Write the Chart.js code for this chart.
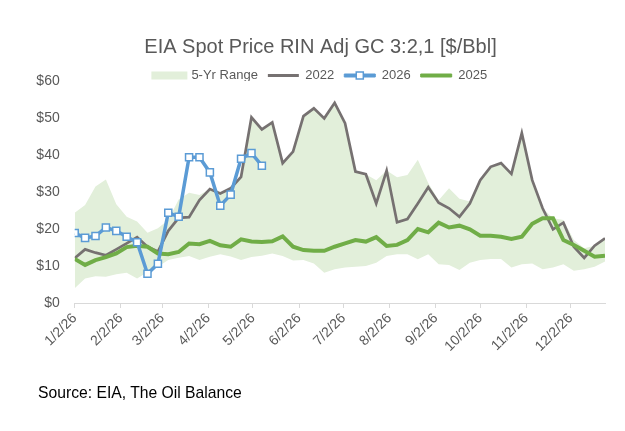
<!DOCTYPE html>
<html>
<head>
<meta charset="utf-8">
<script src="https://cdn.jsdelivr.net/npm/chart.js@4/dist/chart.umd.min.js"></script>
<style>
    html, body { margin: 0; padding: 0; background: #fff; }
    #wrap { position: relative; width: 625px; height: 431px; }
    #source {
        position: absolute; left: 38px; top: 384px;
        font: 15.7px "Liberation Sans", Arial, sans-serif; color: #000;
    }
</style>
</head>
<body>
<div id="wrap">
    <canvas id="chart" width="625" height="431"></canvas>
    <div id="source">Source: EIA, The Oil Balance</div>
</div>
<script>
// weekly points, first week = 1/2/26, x measured in days from that date
const monthLabels = ['1/2/26', '2/2/26', '3/2/26', '4/2/26', '5/2/26', '6/2/26',
    '7/2/26', '8/2/26', '9/2/26', '10/2/26', '11/2/26', '12/2/26'];
const monthDays = [0, 31, 59, 90, 120, 151, 181, 212, 243, 273, 304, 334];

const range5yHigh = [24.4, 26.5, 31.5, 33.4, 26.7, 23.3, 22.0, 19.0, 20.2, 22.4, 28.0, 29.8, 29.2,
    30.8, 29.6, 31.0, 34.1, 50.2, 46.9, 48.8, 37.8, 40.9, 50.5, 52.6, 49.9, 54.1, 48.6, 35.5, 34.8,
    33.2, 35.8, 34.0, 34.6, 38.7, 32.4, 27.8, 31.0, 28.2, 27.4, 33.2, 36.8, 37.8, 34.9, 45.9, 33.2,
    25.6, 22.9, 22.4, 17.0, 14.8, 15.5, 17.5];
const range5yLow = [4.0, 6.6, 7.2, 7.1, 7.8, 8.2, 6.6, 8.3, 9.8, 11.6, 12.2, 12.7, 11.6,
    12.5, 13.2, 12.6, 11.6, 12.4, 12.8, 13.4, 12.7, 11.5, 11.6, 10.7, 8.2, 9.1, 9.6, 9.8, 10.0,
    10.9, 12.7, 13.2, 13.2, 11.8, 13.2, 10.5, 10.3, 8.9, 10.9, 11.6, 11.9, 11.9, 9.6, 10.5, 10.7,
    9.1, 9.6, 10.5, 8.7, 9.1, 9.8, 11.2];
const y2022 = [12.1, 14.5, 13.6, 12.9, 14.5, 16.1, 17.8, 15.2, 13.9, 19.5, 23.0, 23.2, 27.8,
    30.8, 29.6, 31.0, 34.1, 50.2, 46.9, 48.8, 37.8, 40.9, 50.5, 52.6, 49.9, 54.1, 48.6, 35.5, 34.8,
    26.9, 35.8, 21.8, 22.7, 26.9, 31.3, 27.1, 25.6, 23.3, 26.9, 33.2, 36.8, 37.8, 34.9, 45.9, 33.2,
    25.6, 19.9, 21.7, 15.2, 12.2, 15.5, 17.5];
const y2026 = [18.9, 17.6, 18.1, 20.4, 19.5, 17.9, 16.4, 7.9, 10.6, 24.4, 23.3, 39.4, 39.4,
    35.3, 26.3, 29.3, 39.0, 40.5, 37.1];
const y2025 = [11.9, 10.3, 11.6, 12.4, 13.4, 15.1, 15.5, 15.2, 13.4, 13.2, 13.8, 16.1, 15.9,
    16.8, 15.6, 15.2, 17.2, 16.6, 16.5, 16.7, 18.0, 15.2, 14.3, 14.1, 14.1, 15.2, 16.1, 17.0, 16.6,
    17.8, 15.4, 15.7, 17.0, 20.0, 19.1, 21.7, 20.4, 20.9, 19.9, 18.2, 18.2, 17.9, 17.3, 17.9, 21.4,
    22.9, 22.9, 17.0, 15.7, 14.1, 12.5, 12.8];

const BAND = '#e2efda', GREY = '#767171', BLUE = '#5b9bd5', GREEN = '#70ad47', TEXT = '#595959';

const toPoints = arr => arr.map((v, i) => ({ x: i * 7, y: v }));

Chart.defaults.font.family = '"Liberation Sans", Arial, sans-serif';
Chart.defaults.color = TEXT;

// square marker on the 2026 legend line
const legendMarker = {
    id: 'legendMarker',
    afterDraw(chart) {
        const lg = chart.legend;
        const ctx = chart.ctx;
        lg.legendItems.forEach((item, k) => {
            if (chart.data.datasets[item.datasetIndex].label !== '2026') return;
            const box = lg.legendHitBoxes[k];
            ctx.save();
            ctx.fillStyle = '#fff';
            ctx.strokeStyle = BLUE;
            ctx.lineWidth = 1.5;
            Chart.helpers.drawPoint(ctx, { pointStyle: 'rect', radius: 5, borderWidth: 1.5 },
                box.left + lg.options.labels.boxWidth / 2, box.top + box.height / 2);
            ctx.restore();
        });
    }
};

new Chart(document.getElementById('chart'), {
    type: 'line',
    data: {
        datasets: [
            {
                label: '2026', rank: 2, data: toPoints(y2026),
                borderColor: BLUE, borderWidth: 3.5, backgroundColor: '#fff',
                pointStyle: 'rect', pointRadius: 5, pointBorderWidth: 1.5,
                pointBorderColor: BLUE, pointBackgroundColor: '#fff'
            },
            {
                label: '2025', rank: 3, data: toPoints(y2025),
                borderColor: GREEN, borderWidth: 4, pointRadius: 0
            },
            {
                label: '2022', rank: 1, data: toPoints(y2022),
                borderColor: GREY, borderWidth: 2.7, pointRadius: 0
            },
            {
                label: '5-Yr Range', rank: 0, data: toPoints(range5yHigh),
                borderWidth: 0, pointRadius: 0, backgroundColor: BAND, fill: '+1'
            },
            {
                label: 'low', rank: 9, data: toPoints(range5yLow),
                borderWidth: 0, pointRadius: 0, fill: false
            }
        ]
    },
    options: {
        responsive: false,
        animation: false,
        layout: { padding: { left: 36, right: 20, top: 0, bottom: 0 } },
        plugins: {
            tooltip: { enabled: false },
            title: {
                display: true,
                text: 'EIA Spot Price RIN Adj GC 3:2,1 [$/Bbl]',
                color: TEXT,
                font: { size: 20, weight: 'normal' },
                padding: { top: 35, bottom: 0 }
            },
            legend: {
                maxHeight: 22,
                labels: {
                    boxWidth: 31,
                    boxHeight: 3,
                    padding: 10,
                    font: { size: 13 },
                    generateLabels: chart => chart.data.datasets
                        .map((ds, i) => ({
                            text: ds.label,
                            datasetIndex: i,
                            hidden: false,
                            fontColor: TEXT,
                            fillStyle: ds.rank === 0 ? BAND : ds.borderColor,
                            strokeStyle: ds.rank === 0 ? BAND : ds.borderColor,
                            lineWidth: ds.rank === 0 ? 5 : (ds.rank === 1 ? 0 : 1)
                        }))
                        .filter(it => chart.data.datasets[it.datasetIndex].rank < 9)
                        .sort((a, b) => chart.data.datasets[a.datasetIndex].rank -
                            chart.data.datasets[b.datasetIndex].rank)
                }
            }
        },
        scales: {
            x: {
                type: 'linear',
                min: 0,
                max: 357,
                afterBuildTicks: s => { s.ticks = monthDays.map(v => ({ value: v })); },
                afterFit: s => { s.height = 128; },
                ticks: {
                    autoSkip: false,
                    minRotation: 45,
                    maxRotation: 45,
                    color: TEXT,
                    font: { size: 14 },
                    padding: 2,
                    callback: (v, i) => monthLabels[i]
                },
                grid: { drawOnChartArea: false, drawTicks: true, tickLength: 5, color: '#d9d9d9' },
                border: { color: '#d9d9d9' }
            },
            y: {
                min: 0,
                max: 60,
                afterFit: s => { s.width = 38.7; },
                ticks: {
                    stepSize: 10,
                    color: TEXT,
                    font: { size: 14 },
                    padding: 7,
                    callback: v => '$' + v
                },
                grid: { display: false },
                border: { display: false }
            }
        }
    },
    plugins: [legendMarker]
});
</script>
</body>
</html>
